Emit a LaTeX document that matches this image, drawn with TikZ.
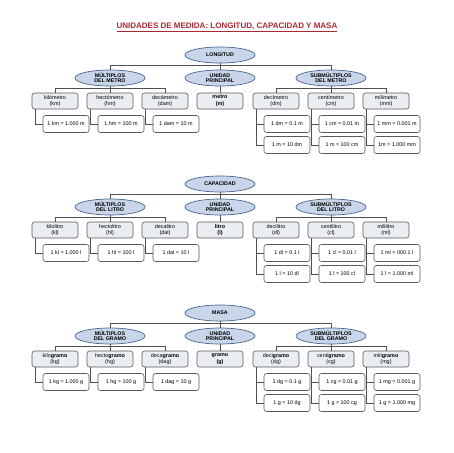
\documentclass[tikz,border=0pt]{standalone}
\usepackage{fontspec}
\setmainfont{Liberation Sans}
\usetikzlibrary{shapes.geometric}
\definecolor{titulo}{RGB}{170,40,50}
\definecolor{celeste}{RGB}{201,214,234}
\definecolor{borde}{RGB}{72,100,140}
\definecolor{gris}{RGB}{90,90,90}
\definecolor{grisclaro}{RGB}{234,237,242}
\definecolor{linea}{RGB}{80,80,80}
\begin{document}
\begin{tikzpicture}
[
x=1pt, y=-1pt,
raiz/.style={ellipse, draw=borde, fill=celeste, line width=0.7pt, minimum width=70pt, minimum height=16pt, inner sep=0, align=center, font=\fontsize{5.3}{5.1}\selectfont\bfseries},
unidad/.style={rectangle, rounded corners=2.5pt, draw=gris, fill=grisclaro, line width=0.6pt, minimum width=46pt, minimum height=16pt, inner sep=0, align=center, font=\fontsize{5.4}{6.6}\selectfont},
igual/.style={unidad, fill=white, minimum height=17pt},
enlace/.style={draw=linea, line width=0.6pt}
]
\useasboundingbox (0,0) rectangle (453,453);
\node[font=\fontsize{8}{9}\selectfont\bfseries, text=titulo] (T) at (227,27) {\underline{UNIDADES DE MEDIDA: LONGITUD, CAPACIDAD Y MASA}};

% longitud
\node[raiz] (L) at (220,55) {LONGITUD};
\node[raiz] (L-m) at (110,78) {MÚLTIPLOS\\DEL METRO};
\node[raiz] (L-u) at (220,78) {UNIDAD\\PRINCIPAL};
\node[raiz] (L-s) at (331,78) {SUBMÚLTIPLOS\\DEL METRO};
\node[unidad] (L-1) at ( 55,101) {kilómetro\\(km)};
\node[unidad] (L-2) at (110,101) {hectómetro\\(hm)};
\node[unidad] (L-3) at (165,101) {decámetro\\(dam)};
\node[unidad] (L-4) at (220,101) {\textbf{metro}\\\textbf{(m)}};
\node[unidad] (L-5) at (276,101) {decímetro\\(dm)};
\node[unidad] (L-6) at (331,101) {centímetro\\(cm)};
\node[unidad] (L-7) at (386,101) {milímetro\\(mm)};
\node[igual] (L-1-a) at ( 66,124) {1 km = 1.000 m};
\node[igual] (L-2-a) at (121,124) {1 hm = 100 m};
\node[igual] (L-3-a) at (176,124) {1 dam = 10 m};
\node[igual] (L-5-a) at (287,124) {1 dm = 0.1 m};
\node[igual] (L-6-a) at (342,124) {1 cm = 0.01 m};
\node[igual] (L-7-a) at (397,124) {1 mm = 0.001 m};
\node[igual] (L-5-b) at (287,145) {1 m = 10 dm};
\node[igual] (L-6-b) at (342,145) {1 m = 100 cm};
\node[igual] (L-7-b) at (397,145) {1m = 1.000 mm};

% capacidad
\node[raiz] (C) at (220,184) {CAPACIDAD};
\node[raiz] (C-m) at (110,207) {MÚLTIPLOS\\DEL LITRO};
\node[raiz] (C-u) at (220,207) {UNIDAD\\PRINCIPAL};
\node[raiz] (C-s) at (331,207) {SUBMÚLTIPLOS\\DEL LITRO};
\node[unidad] (C-1) at ( 55,230) {kilolitro\\(kl)};
\node[unidad] (C-2) at (110,230) {hectolitro\\(hl)};
\node[unidad] (C-3) at (165,230) {decalitro\\(dal)};
\node[unidad] (C-4) at (220,230) {\textbf{litro}\\\textbf{(l)}};
\node[unidad] (C-5) at (276,230) {decilitro\\(dl)};
\node[unidad] (C-6) at (331,230) {centilitro\\(cl)};
\node[unidad] (C-7) at (386,230) {mililitro\\(ml)};
\node[igual] (C-1-a) at ( 66,253) {1 kl = 1.000 l};
\node[igual] (C-2-a) at (121,253) {1 hl = 100 l};
\node[igual] (C-3-a) at (176,253) {1 dal = 10 l};
\node[igual] (C-5-a) at (287,253) {1 dl = 0.1 l};
\node[igual] (C-6-a) at (342,253) {1 cl = 0.01 l};
\node[igual] (C-7-a) at (397,253) {1 ml = 000.1 l};
\node[igual] (C-5-b) at (287,274) {1 l = 10 dl};
\node[igual] (C-6-b) at (342,274) {1 l = 100 cl};
\node[igual] (C-7-b) at (397,274) {1 l = 1.000 ml};

% masa
\node[raiz] (M) at (220,313) {MASA};
\node[raiz] (M-m) at (110,336) {MÚLTIPLOS\\DEL GRAMO};
\node[raiz] (M-u) at (220,336) {UNIDAD\\PRINCIPAL};
\node[raiz] (M-s) at (331,336) {SUBMÚLTIPLOS\\DEL GRAMO};
\node[unidad] (M-1) at ( 55,359) {kilo\textbf{gramo}\\(kg)};
\node[unidad] (M-2) at (110,359) {hecto\textbf{gramo}\\(hg)};
\node[unidad] (M-3) at (165,359) {deca\textbf{gramo}\\(dag)};
\node[unidad] (M-4) at (220,359) {\textbf{gramo}\\\textbf{(g)}};
\node[unidad] (M-5) at (276,359) {deci\textbf{gramo}\\(dg)};
\node[unidad] (M-6) at (331,359) {centi\textbf{gramo}\\(cg)};
\node[unidad] (M-7) at (386,359) {mili\textbf{gramo}\\(mg)};
\node[igual] (M-1-a) at ( 66,382) {1 kg = 1.000 g};
\node[igual] (M-2-a) at (121,382) {1 hg = 100 g};
\node[igual] (M-3-a) at (176,382) {1 dag = 10 g};
\node[igual] (M-5-a) at (287,382) {1 dg = 0.1 g};
\node[igual] (M-6-a) at (342,382) {1 cg = 0.01 g};
\node[igual] (M-7-a) at (397,382) {1 mg = 0.001 g};
\node[igual] (M-5-b) at (287,403) {1 g = 10 dg};
\node[igual] (M-6-b) at (342,403) {1 g = 100 cg};
\node[igual] (M-7-b) at (397,403) {1 g = 1.000 mg};

\foreach \p in {L,C,M}
{
\draw[enlace] (\p.south) -- (\p-u.north) (\p-u.south) -- (\p-4.north);
\draw[enlace] (\p-m.north) -- ++(0,-4) -| (\p-s.north);
\draw[enlace] (\p-m.south) -- (\p-2.north) (\p-s.south) -- (\p-6.north);
\draw[enlace] (\p-1.north) -- ++(0,-4) -| (\p-3.north) (\p-5.north) -- ++(0,-4) -| (\p-7.north);
\foreach \i in {1,2,3,5,6,7} \draw[enlace] (\p-\i.south west) ++(4,0) |- (\p-\i-a.west);
\foreach \i in {5,6,7} \draw[enlace] (\p-\i.south west) ++(4,0) |- (\p-\i-b.west);
}
\end{tikzpicture}
\end{document}
